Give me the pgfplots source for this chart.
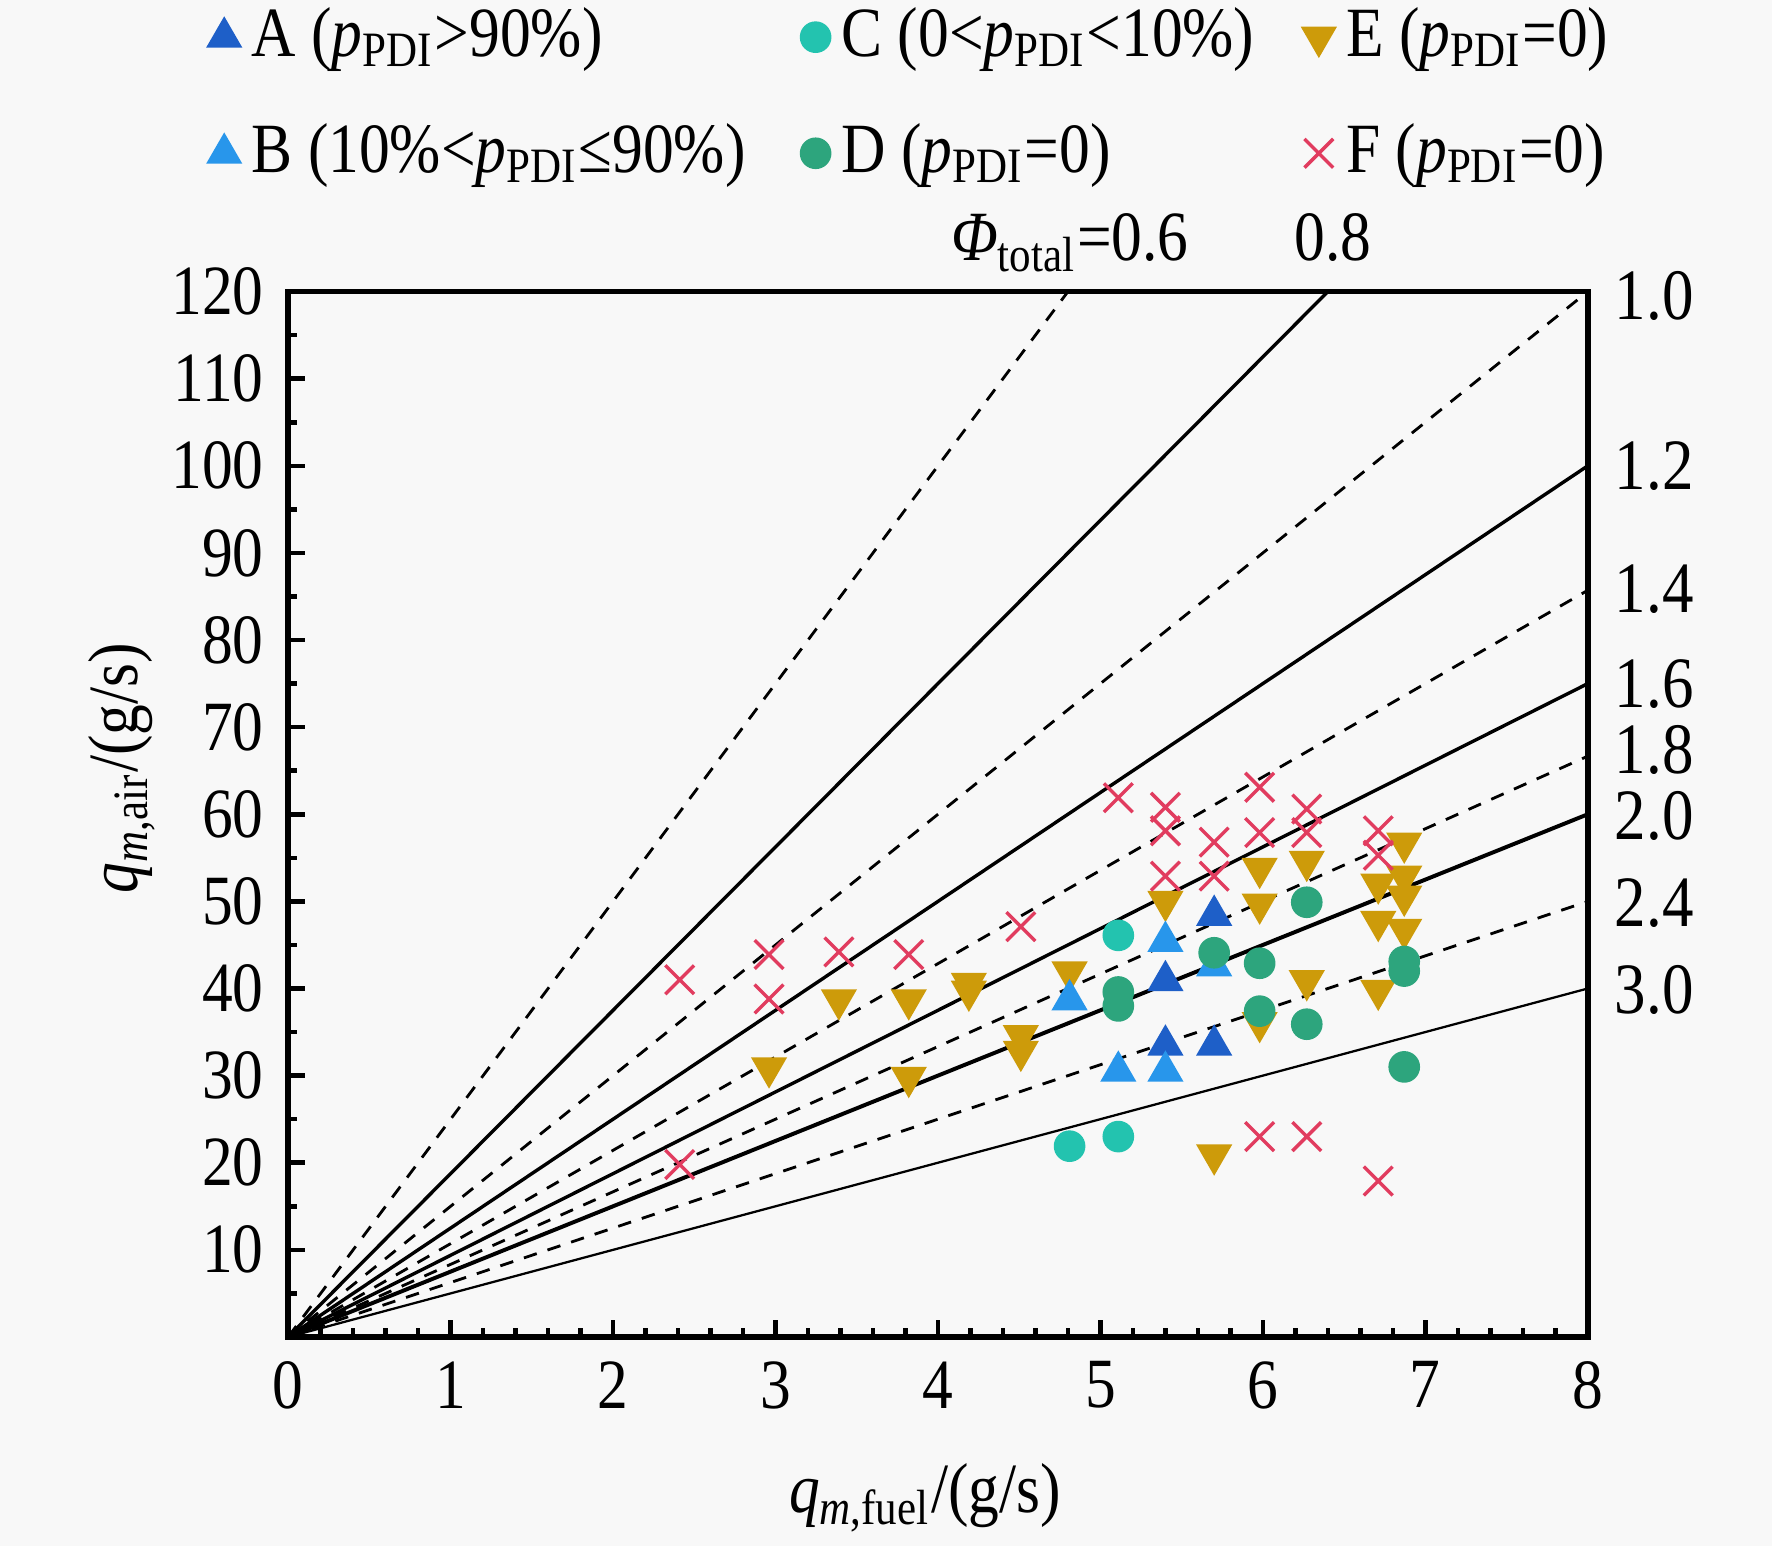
\documentclass[border=0pt]{standalone}
\usepackage{fontspec}
\setmainfont{Liberation Serif}[FakeStretch=0.87]
\usepackage{pgfplots}
\pgfplotsset{compat=1.18}
\usetikzlibrary{calc}
\definecolor{cA}{RGB}{30,95,200}
\definecolor{cB}{RGB}{40,150,235}
\definecolor{cC}{RGB}{35,195,175}
\definecolor{cD}{RGB}{45,165,125}
\definecolor{cE}{RGB}{205,155,10}
\definecolor{cF}{RGB}{225,60,95}
\definecolor{bg}{RGB}{248,248,248}
\begin{document}
\fontsize{12.5}{15}\selectfont
\begin{tikzpicture}
\fill[bg] (-51pt,-37pt) rectangle (262.6pt,236.6pt);
\begin{axis}[name=ax, scale only axis, width=230pt, height=185pt,
  at={(0,0)}, anchor=south west,
  xmin=0, xmax=8, ymin=0, ymax=120,
  xtick={0,...,8}, minor x tick num=4,
  ytick={10,20,...,120}, minor ytick={5,15,...,115},
  tick align=inside, xtick pos=bottom, ytick pos=left,
  major tick length=3pt, minor tick length=1.6pt,
  axis line style={line width=1pt},
  tick style={black, line width=0.8pt},
  /pgf/number format/assume math mode=true,
  ticklabel style={font=\fontsize{12.5}{15}\selectfont},
  xlabel={\textit{q}\textsubscript{\textit{m},fuel}/(g/s)},
  ylabel={\textit{q}\textsubscript{\textit{m},air}/(g/s)},
  xlabel style={at={(axis description cs:0.49,-0.154)}, anchor=center},
  ylabel style={at={(axis description cs:-0.128,0.544)}, anchor=center},
  clip=false,
  legend columns=3,
  legend cell align=left,
  legend style={draw=none, fill=none, at={(axis description cs:-0.0625,1)}, anchor=south west, yshift=17pt,
    /tikz/every even column/.append style={column sep=3pt}, row sep=6pt,
    font=\fontsize{12.5}{15}\selectfont, inner sep=0pt},
  legend image code/.code={\draw[mark repeat=2,mark phase=2,#1] plot coordinates {(0cm,0cm) (0.12cm,0cm) (0.24cm,0cm)};},
]
% equivalence ratio lines
\addplot[black, line width=0.5pt, dash pattern=on 2.4pt off 2pt, forget plot] coordinates {(0,0) (4.8,120)};
\addplot[black, line width=0.6pt, forget plot] coordinates {(0,0) (6.4,120)};
\addplot[black, line width=0.5pt, dash pattern=on 2.4pt off 2pt, forget plot] coordinates {(0,0) (8,120)};
\addplot[black, line width=0.6pt, forget plot] coordinates {(0,0) (8,100)};
\addplot[black, line width=0.5pt, dash pattern=on 2.4pt off 2pt, forget plot] coordinates {(0,0) (8,85.71)};
\addplot[black, line width=0.6pt, forget plot] coordinates {(0,0) (8,75)};
\addplot[black, line width=0.5pt, dash pattern=on 2.4pt off 2pt, forget plot] coordinates {(0,0) (8,66.67)};
\addplot[black, line width=0.7pt, forget plot] coordinates {(0,0) (8,60)};
\addplot[black, line width=0.5pt, dash pattern=on 2.4pt off 2pt, forget plot] coordinates {(0,0) (8,50)};
\addplot[black, line width=0.4pt, forget plot] coordinates {(0,0) (8,40)};

% A
\addplot[only marks, mark=triangle*, mark size=3.3pt, color=cA] coordinates {
(5.40,40.9) (5.40,33.5) (5.70,48.4) (5.70,33.5)};
\addlegendentry{\makebox[92.2pt][l]{A (\textit{p}\textsubscript{PDI}>90\%)}}
% C
\addplot[only marks, mark=*, mark size=2.6pt, color=cC] coordinates {
(5.11,46.1) (4.81,21.9) (5.11,23.0)};
\addlegendentry{\makebox[76.6pt][l]{C (0<\textit{p}\textsubscript{PDI}<10\%)}}
% E
\addplot[only marks, mark=triangle*, mark size=3.3pt, mark options={rotate=180}, color=cE] coordinates {
(2.96,30.9) (3.39,38.7) (3.82,38.7) (3.82,29.8) (4.19,40.6) (4.19,39.7)
(4.51,34.6) (4.51,32.8) (4.81,41.9) (5.40,50.0) (5.70,20.9)
(5.98,53.8) (5.98,49.7) (5.98,36.1) (6.27,54.6) (6.27,40.9)
(6.71,52.0) (6.71,47.7) (6.71,39.8) (6.87,56.7) (6.87,52.9) (6.87,50.6) (6.87,46.8)};
\addlegendentry{E (\textit{p}\textsubscript{PDI}=0)}
% B
\addplot[only marks, mark=triangle*, mark size=3.3pt, color=cB] coordinates {
(4.81,38.7) (5.11,30.5) (5.40,45.4) (5.40,30.5) (5.70,42.6)};
\addlegendentry{\makebox[92.2pt][l]{B (10\%<\textit{p}\textsubscript{PDI}≤90\%)}}
% D
\addplot[only marks, mark=*, mark size=2.6pt, color=cD] coordinates {
(5.11,39.6) (5.11,38.0) (5.70,44.1) (5.98,42.9) (5.98,37.4) (6.27,49.9)
(6.27,35.9) (6.87,43.1) (6.87,42.0) (6.87,31.0)};
\addlegendentry{\makebox[76.6pt][l]{D (\textit{p}\textsubscript{PDI}=0)}}
% F
\addplot[only marks, mark=x, mark size=3.6pt, line width=0.6pt, color=cF] coordinates {
(2.41,41.0) (2.41,19.8) (2.96,43.9) (2.96,38.8) (3.39,44.2) (3.82,43.9)
(4.51,47.1) (5.11,61.9) (5.40,60.8) (5.40,58.1) (5.40,52.9) (5.70,56.8)
(5.70,52.9) (5.98,63.1) (5.98,57.9) (6.27,60.6) (6.27,57.9) (6.71,58.1)
(6.71,55.3) (5.98,23.0) (6.27,23.0) (6.71,17.9)};
\addlegendentry{F (\textit{p}\textsubscript{PDI}=0)}

% labels of the lines
\begin{scope}[every node/.style={anchor=west, inner sep=0pt, xshift=4.6pt, font=\fontsize{12.8}{15}\selectfont}]
\node at (axis cs:8,119.5) {1.0};
\node at (axis cs:8,100) {1.2};
\node at (axis cs:8,85.9) {1.4};
\node at (axis cs:8,75) {1.6};
\node at (axis cs:8,67.4) {1.8};
\node at (axis cs:8,59.8) {2.0};
\node at (axis cs:8,49.8) {2.4};
\node at (axis cs:8,39.8) {3.0};
\end{scope}
\node[anchor=base, inner sep=0pt] at (axis cs:6.43,123.6) {0.8};
\node[anchor=base east, inner sep=0pt] at (axis cs:5.55,123.6) {\textit{Φ}\textsubscript{total}=0.6};
\end{axis}
\pgfresetboundingbox
\path[use as bounding box] ($(ax.south west)+(-51pt,-37pt)$) rectangle ($(ax.north east)+(32.6pt,51.6pt)$);
\end{tikzpicture}
\end{document}
